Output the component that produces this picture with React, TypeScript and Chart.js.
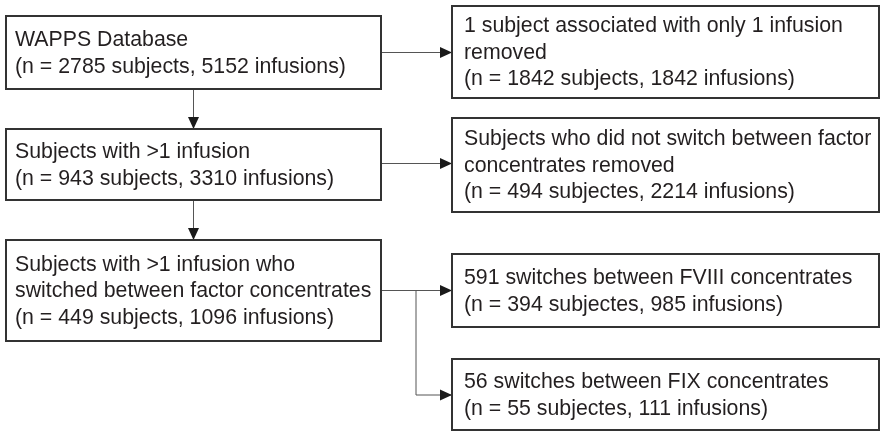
import React, { useEffect, useRef } from "react";
import { Chart, registerables } from "chart.js";

Chart.register(...registerables);

// ---- content ----
const boxIds = ["db", "multi", "switched", "single", "noswitch", "fviii", "fix"];
const boxLines: string[][] = [
  ["WAPPS Database", "(n = 2785 subjects, 5152 infusions)"],
  ["Subjects with >1 infusion", "(n = 943 subjects, 3310 infusions)"],
  ["Subjects with >1 infusion who", "switched between factor concentrates", "(n = 449 subjects, 1096 infusions)"],
  ["1 subject associated with only 1 infusion", "removed", "(n = 1842 subjects, 1842 infusions)"],
  ["Subjects who did not switch between factor", "concentrates removed", "(n = 494 subjectes, 2214 infusions)"],
  ["591 switches between FVIII concentrates", "(n = 394 subjectes, 985 infusions)"],
  ["56 switches between FIX concentrates", "(n = 55 subjectes, 111 infusions)"],
];

// ---- layout (in 0..880 x 0..432 scale units) ----
const boxRects = [
  [6, 16, 381, 89],
  [6, 129, 381, 200],
  [6, 240, 381, 341],
  [452, 6, 879, 98],
  [452, 118, 879, 212],
  [452, 254, 879, 327],
  [452, 359, 879, 430],
];
const textPad = [9, 9, 9, 12, 12, 12, 12];
// connector polylines: points, last segment ends in arrow
const connectors: number[][][] = [
  [[193.5, 89], [193.5, 129]],
  [[193.5, 200], [193.5, 240]],
  [[381, 52.5], [452, 52.5]],
  [[381, 163.5], [452, 163.5]],
  [[381, 290.5], [452, 290.5]],
  [[416, 290.5], [416, 395], [452, 395]],
];

const FONT = "21.3px 'Liberation Sans', Arial, Helvetica, sans-serif";
const LINE_H = 26.5;

const flowPlugin = {
  id: "flow",
  afterDraw(chart: any) {
    const ctx = chart.ctx as CanvasRenderingContext2D;
    const xs = chart.scales.x;
    const ys = chart.scales.y;
    const px = (v: number) => xs.getPixelForValue(v);
    const py = (v: number) => ys.getPixelForValue(v);
    ctx.save();
    ctx.fillStyle = "#ffffff";
    ctx.fillRect(0, 0, chart.width, chart.height);

    // connectors
    ctx.strokeStyle = "#555555";
    ctx.fillStyle = "#1a1a1a";
    ctx.lineWidth = 1;
    connectors.forEach((pts) => {
      ctx.beginPath();
      pts.forEach((p, i) => {
        const x = px(p[0]);
        const y = py(p[1]);
        if (i === 0) ctx.moveTo(x, y);
        else ctx.lineTo(x, y);
      });
      ctx.stroke();
      const a = pts[pts.length - 2];
      const b = pts[pts.length - 1];
      const bx = px(b[0]);
      const by = py(b[1]);
      const ang = Math.atan2(py(b[1]) - py(a[1]), px(b[0]) - px(a[0]));
      const len = 12;
      const hw = 5.5;
      ctx.beginPath();
      ctx.moveTo(bx, by);
      ctx.lineTo(bx - len * Math.cos(ang) - hw * Math.sin(ang), by - len * Math.sin(ang) + hw * Math.cos(ang));
      ctx.lineTo(bx - len * Math.cos(ang) + hw * Math.sin(ang), by - len * Math.sin(ang) - hw * Math.cos(ang));
      ctx.closePath();
      ctx.fill();
    });

    // boxes
    boxRects.forEach((r, i) => {
      const x0 = px(r[0]);
      const y0 = py(r[1]);
      const x1 = px(r[2]);
      const y1 = py(r[3]);
      ctx.fillStyle = "#ffffff";
      ctx.fillRect(x0, y0, x1 - x0, y1 - y0);
      ctx.strokeStyle = "#333333";
      ctx.lineWidth = 2;
      ctx.strokeRect(x0, y0, x1 - x0, y1 - y0);
      const lines = boxLines[i];
      ctx.fillStyle = "#231f20";
      ctx.font = FONT;
      ctx.textAlign = "left";
      ctx.textBaseline = "middle";
      const cy = (y0 + y1) / 2;
      const startY = cy - ((lines.length - 1) * LINE_H) / 2;
      lines.forEach((t, k) => {
        ctx.fillText(t, x0 + textPad[i], startY + k * LINE_H + 1);
      });
    });
    ctx.restore();
  },
};

export default function App() {
  const ref = useRef<HTMLCanvasElement | null>(null);
  useEffect(() => {
    document.body.style.margin = "0";
    const canvas = ref.current;
    if (!canvas) return;
    const chart = new Chart(canvas, {
      type: "scatter",
      data: {
        datasets: [
          {
            label: "boxes",
            data: boxIds.map((_, i) => ({
              x: (boxRects[i][0] + boxRects[i][2]) / 2,
              y: (boxRects[i][1] + boxRects[i][3]) / 2,
            })),
            pointRadius: 0,
          },
        ],
      },
      options: {
        responsive: false,
        animation: false,
        layout: { padding: 0 },
        plugins: { legend: { display: false }, tooltip: { enabled: false } },
        scales: {
          x: { type: "linear", min: 0, max: 880, display: false },
          y: { type: "linear", min: 0, max: 432, reverse: true, display: false },
        },
      },
      plugins: [flowPlugin],
    });
    return () => chart.destroy();
  }, []);
  return (
    <div style={{ width: 880, height: 432 }}>
      <canvas ref={ref} width={880} height={432} style={{ display: "block" }} />
    </div>
  );
}
